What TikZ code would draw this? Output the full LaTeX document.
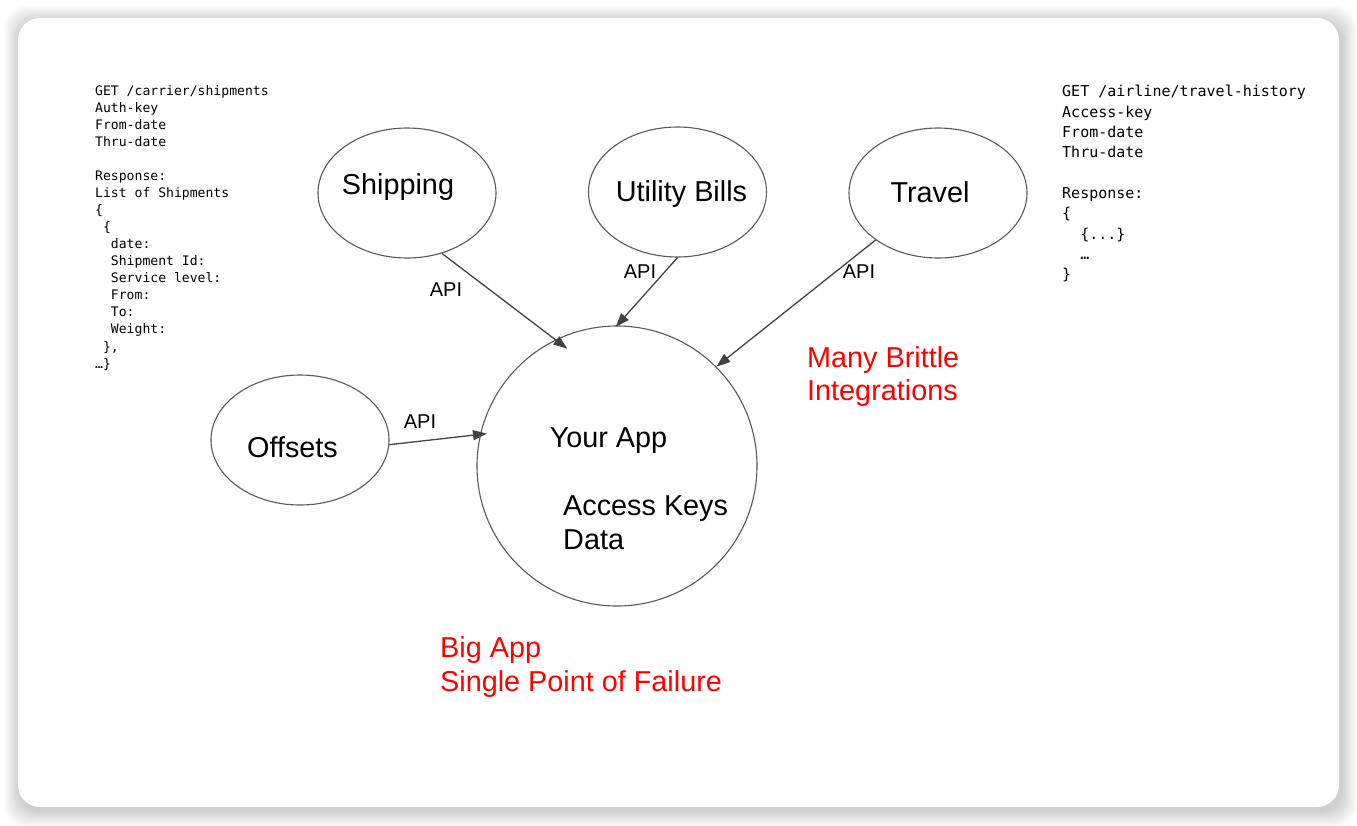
\documentclass[tikz,border=0pt]{standalone}
\usepackage{fontspec}
\setmainfont{Liberation Sans}
\newfontfamily\codefont{DejaVu Sans Mono}
\usetikzlibrary{positioning,shapes.geometric,arrows.meta}

\definecolor{edgegray}{HTML}{595959}
\definecolor{arrowgray}{HTML}{434343}
\definecolor{alertred}{HTML}{FF0000}

\newcommand{\codesp}{\hphantom{x}}

\tikzset{
  bubble/.style={ellipse, draw=edgegray, line width=1.1pt, minimum width=178pt, minimum height=130pt, inner sep=0pt},
  hub/.style={circle, draw=edgegray, line width=1.1pt, minimum size=280pt, inner sep=0pt},
  big/.style={font=\fontsize{28.8}{34.5}\selectfont, inner sep=0pt},
  api/.style={font=\fontsize{20}{24}\selectfont, inner sep=0pt},
  link/.style={draw=arrowgray, line width=1.3pt, -{Triangle[length=14pt,width=10pt]}},
  note/.style={big, text=alertred, align=left, anchor=north west},
  code/.style={align=left, anchor=north west, inner sep=0pt},
}

\begin{document}
\begin{tikzpicture}[x=1pt, y=-1pt, on grid]
  \useasboundingbox (0,0) rectangle (1357,825);
  \fill[white] (0,0) rectangle (1357,825);
  % card and its shadow
  \foreach \s in {1,...,16}
    \fill[black, opacity=0.011, rounded corners=22pt] (20-\s,22-\s) rectangle (1341+\s,811+\s);
  \fill[white, rounded corners=22pt] (18,18) rectangle (1339,807);

  % services
  \node[hub] (app) at (617,466) {};
  \node[bubble, above left=273pt and 210pt of app,
        label={[big, xshift=-9pt, yshift=6pt]center:Shipping}] (ship) {};
  \node[bubble, above right=274pt and 60.5pt of app,
        label={[big, xshift=4pt, yshift=-2pt]center:Utility Bills}] (util) {};
  \node[bubble, above right=273pt and 321pt of app,
        label={[big, xshift=-8pt, yshift=1pt]center:Travel}] (trav) {};
  \node[bubble, above left=26pt and 317pt of app,
        label={[big, xshift=-7.5pt, yshift=-7pt]center:Offsets}] (offs) {};

  \node[big, above left=25.5pt and 8.5pt of app] (appname) {Your App};
  \node[big, align=left, anchor=north west] (appdata) at (563,495) {Access Keys\\Data};

  % integrations
  \draw[link, shorten >=-15pt] (ship.-60.5) -- (app.116.4);
  \draw[link, shorten >=-2pt] (util.south) -- (app.north);
  \draw[link] (trav.-143.3) -- (app.45.6);
  \draw[link, shorten >=-7pt] (offs.-3.3) -- (app.167.5);

  \node[api] (apiship) at (446,290) {API};
  \node[api] (apiutil) at (640,272) {API};
  \node[api] (apitrav) at (859,272) {API};
  \node[api] (apioffs) at (420,422) {API};

  % remarks
  \node[note, font=\fontsize{28.8}{33}\selectfont] (brittle) at (807,346.5) {Many Brittle\\Integrations};
  \node[note, font=\fontsize{28.8}{34.2}\selectfont] (bigapp) at (440,636) {Big App\\Single Point of Failure};

  % request specs
  \node[code, font=\codefont\fontsize{13.1}{17.06}\selectfont] (shipspec) at (95,85)
    {GET /carrier/shipments\\Auth-key\\From-date\\Thru-date\\ \\Response:\\List of Shipments\\\{\\
     \codesp\{\\\codesp\codesp date:\\\codesp\codesp Shipment Id:\\\codesp\codesp Service level:\\
     \codesp\codesp From:\\\codesp\codesp To:\\\codesp\codesp Weight:\\\codesp\},\\…\}};
  \node[code, font=\codefont\fontsize{15}{20.3}\selectfont] (travspec) at (1062,85.3)
    {GET /airline/travel-history\\Access-key\\From-date\\Thru-date\\ \\Response:\\\{\\
     \codesp\codesp\{...\}\\\codesp\codesp …\\\}};
\end{tikzpicture}
\end{document}
